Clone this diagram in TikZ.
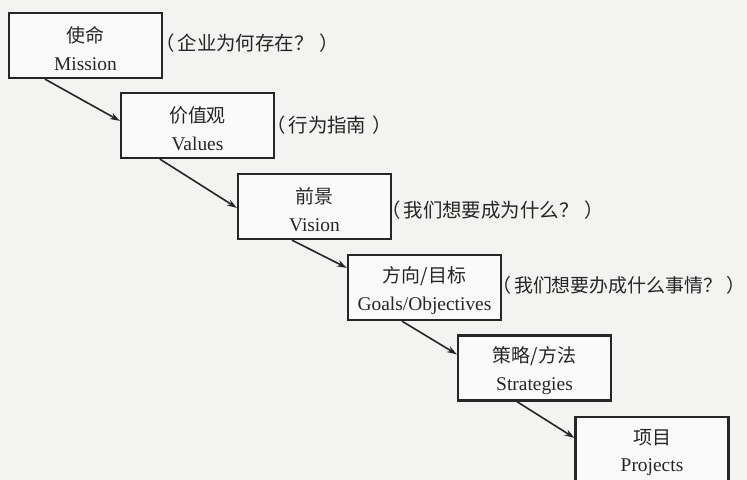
\documentclass[tikz,border=0pt]{standalone}
\usepackage{fontspec}
\setmainfont{Liberation Serif}
\newfontfamily\cjk{Noto Sans CJK SC}
\usetikzlibrary{arrows.meta,calc}
\definecolor{bgc}{HTML}{F3F3F2}
\definecolor{ink}{HTML}{262626}
\tikzset{
  box/.style={draw=ink, line width=2.2bp, fill=white!60!bgc, minimum width=153bp, minimum height=65bp, inner sep=0pt},
  boxtext/.style={align=center, inner sep=0pt, text=ink, font=\fontsize{19.5}{28}\selectfont},
  note/.style={anchor=west, inner sep=0pt, text=ink, font=\cjk\fontsize{19.5}{22}\selectfont},
  conn/.style={draw=ink, line width=1.6bp, -{Stealth[length=10bp,width=6.5bp]}}
}
\newcommand{\zh}[1]{{\cjk\fontsize{19}{28}\selectfont #1}}
\newcommand{\paren}[2][6bp]{（\hspace{3bp}#2\hspace{#1}\makebox[0.5em][l]{）}}
\begin{document}
\begin{tikzpicture}[x=1bp,y=-1bp]
\fill[bgc] (0,0) rectangle (747,480);
\useasboundingbox (0,0) rectangle (747,480);
\clip (0,0) rectangle (747,480);
\node[box] (b1) at (85.5,45.5) {};
\node[box] (b2) at (197.5,125.5) {};
\node[box] (b3) at (314.5,206.5) {};
\node[box] (b4) at (424.5,287.5) {};
\node[box] (b5) at (534.5,368) {};
\node[box] (b6) at (652,449.5) {};
\node[boxtext] (t1) at ([yshift=-3bp]b1.center) {\zh{使命}\\Mission};
\node[boxtext] (t2) at ([yshift=-3bp]b2.center) {\zh{价值观}\\Values};
\node[boxtext] (t3) at ([yshift=-3bp]b3.center) {\zh{前景}\\Vision};
\node[boxtext] (t4) at ([yshift=-3bp]b4.center) {\zh{方向/目标}\\Goals/Objectives};
\node[boxtext] (t5) at ([yshift=-3bp]b5.center) {\zh{策略/方法}\\Strategies};
\node[boxtext] (t6) at ([yshift=-3bp]b6.center) {\zh{项目}\\Projects};
\node[note] (n1) at (155,43) {\paren{企业为何存在？}};
\node[note] (n2) at (266,125) {\paren{行为指南}};
\node[note] (n3) at (381,210) {\paren{我们想要成为什么？}};
\node[note, font=\cjk\fontsize{19}{22}\selectfont] (n4) at (492,285) {\paren[4bp]{我们想要办成什么事情？}};
\draw[conn] ($(b1.south west)+(37,0)$) -- ($(b2.north west)+(0,29)$);
\draw[conn] ($(b2.south west)+(40,0)$) -- ($(b3.north west)+(0,35)$);
\draw[conn] ($(b3.south west)+(55,0)$) -- ($(b4.north west)+(0,14)$);
\draw[conn] ($(b4.south west)+(55,0)$) -- ($(b5.north west)+(0,20)$);
\draw[conn] ($(b5.south west)+(60,0)$) -- ($(b6.north west)+(0,22)$);
\end{tikzpicture}
\end{document}
